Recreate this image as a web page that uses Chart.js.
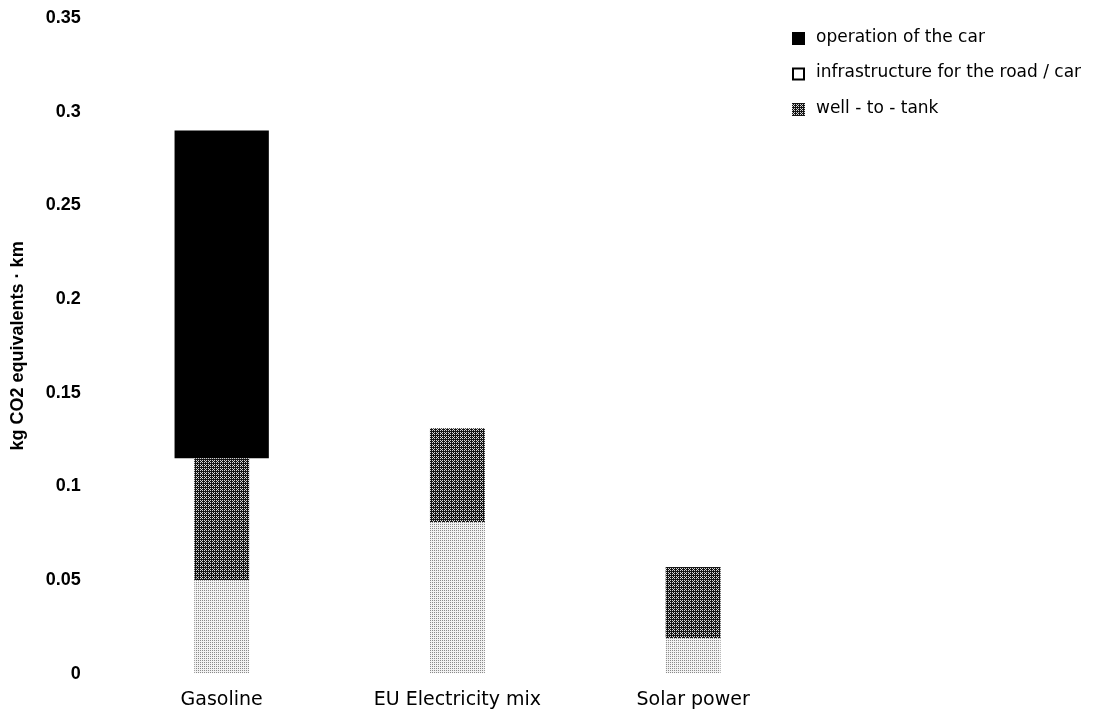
<!DOCTYPE html>
<html>
<head>
<meta charset="utf-8">
<script src="https://cdn.jsdelivr.net/npm/chart.js"></script>
<style>
  body { margin: 0; background: #fff; }
  #wrap { width: 1099px; height: 711px; position: relative; }
</style>
</head>
<body>
<div id="wrap"><canvas id="co2-chart"></canvas></div>
<script>
// categories and values (kg CO2 eq per km)
const categories = ['Gasoline', 'EU Electricity mix', 'Solar power'];
const infrastructure = [0.05, 0.081, 0.019];
const wellToTank = [0.065, 0.05, 0.038];
const operation = [0.175, 0, 0];
const yTicks = [0, 0.05, 0.1, 0.15, 0.2, 0.25, 0.3, 0.35];

// legend rows in the picture: operation, infrastructure, well-to-tank
const legendRows = [2, 0, 1];

// small ordered-dither patterns to imitate the scanned grey fills
const bayer = [0, 8, 2, 10, 12, 4, 14, 6, 3, 11, 1, 9, 15, 7, 13, 5];
function ditherPattern(base, dot, count) {
    const c = document.createElement('canvas');
    c.width = 4;
    c.height = 4;
    const g = c.getContext('2d');
    g.fillStyle = base;
    g.fillRect(0, 0, 4, 4);
    g.fillStyle = dot;
    bayer.forEach((v, i) => {
        if (v < count) g.fillRect(i % 4, Math.floor(i / 4), 1, 1);
    });
    return g.createPattern(c, 'repeat');
}

// legend drawn at the top right, outside the plot layout
const sideLegend = {
    id: 'sideLegend',
    afterDraw(chart, args, opts) {
        const ctx = chart.ctx;
        ctx.save();
        ctx.font = opts.font;
        ctx.textBaseline = 'middle';
        legendRows.forEach((di, row) => {
            const ds = chart.data.datasets[di];
            const y = opts.top + row * opts.rowGap;
            const bx = opts.x, by = y - opts.box / 2 + 1;
            if (di === 0) {
                ctx.fillStyle = '#fff';
                ctx.fillRect(bx, by, opts.box, opts.box);
                ctx.strokeStyle = '#000';
                ctx.lineWidth = 2;
                ctx.strokeRect(bx + 1, by + 1, opts.box - 2, opts.box - 2);
            } else {
                ctx.fillStyle = ds.backgroundColor;
                ctx.fillRect(bx, by, opts.box, opts.box);
            }
            ctx.fillStyle = '#000';
            ctx.fillText(ds.label, opts.textX, y);
        });
        ctx.restore();
    }
};

function renderChart() {
    const ctx = document.getElementById('co2-chart').getContext('2d');
    const lightFill = ditherPattern('#f2f2f2', '#8a8a8a', 4);
    const darkFill = ditherPattern('#151515', '#d8d8d8', 5);

    new Chart(ctx, {
        type: 'bar',
        data: {
            labels: categories,
            datasets: [{
                label: 'infrastructure for the road / car',
                data: infrastructure,
                backgroundColor: lightFill,
                barPercentage: 0.233,
                categoryPercentage: 1
            }, {
                label: 'well - to - tank',
                data: wellToTank,
                backgroundColor: darkFill,
                barPercentage: 0.233,
                categoryPercentage: 1
            }, {
                label: 'operation of the car',
                data: operation,
                backgroundColor: '#000000',
                barPercentage: 0.40,
                categoryPercentage: 1
            }]
        },
        plugins: [sideLegend],
        options: {
            responsive: true,
            maintainAspectRatio: false,
            animation: false,
            layout: { padding: { top: 10, right: 288, bottom: 0, left: 7 } },
            plugins: {
                tooltip: { enabled: false },
                legend: { display: false },
                sideLegend: {
                    x: 792,
                    textX: 816,
                    top: 37.5,
                    rowGap: 35.5,
                    box: 13,
                    font: '17px "DejaVu Sans"'
                }
            },
            scales: {
                x: {
                    stacked: true,
                    grid: { display: false, drawTicks: false },
                    border: { display: false },
                    afterFit: (scale) => { scale.height = 37.2; },
                    ticks: {
                        color: '#000',
                        padding: 14.4,
                        maxRotation: 0,
                        font: { family: 'DejaVu Sans', size: 19 }
                    }
                },
                y: {
                    stacked: true,
                    min: 0,
                    max: 0.35,
                    afterBuildTicks: (axis) => { axis.ticks = yTicks.map(v => ({ value: v })); },
                    grid: {
                        display: true,
                        drawOnChartArea: false,
                        drawTicks: true,
                        tickLength: 15.8,
                        color: 'rgba(0,0,0,0)'
                    },
                    border: { display: false },
                    title: {
                        display: true,
                        text: 'kg CO2 equivalents · km',
                        color: '#000',
                        font: { family: 'Liberation Sans', size: 18, weight: 'bold' },
                        padding: { top: 0, bottom: 10 }
                    },
                    ticks: {
                        color: '#000',
                        padding: 7.2,
                        font: { family: 'Liberation Sans', size: 18, weight: 'bold' },
                        callback: (v) => String(Math.round(v * 100) / 100)
                    }
                }
            }
        }
    });
}

document.addEventListener('DOMContentLoaded', renderChart);
</script>
</body>
</html>
